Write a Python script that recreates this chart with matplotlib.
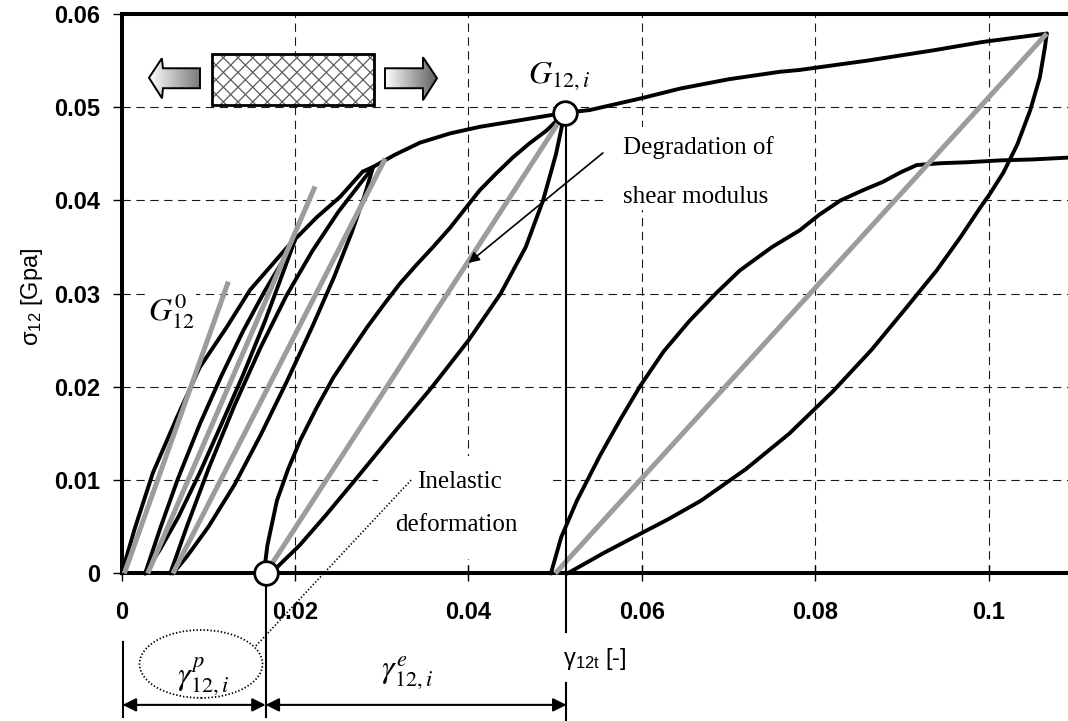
import matplotlib
matplotlib.use("Agg")
import numpy as np
import matplotlib.pyplot as plt
from matplotlib.patches import Polygon, Rectangle, Ellipse
from matplotlib.colors import LinearSegmentedColormap

plt.rcParams['font.family'] = ['Liberation Sans', 'DejaVu Sans']
plt.rcParams['mathtext.fontset'] = 'custom'
plt.rcParams['mathtext.rm'] = 'Liberation Sans'
plt.rcParams['mathtext.it'] = 'Liberation Sans:italic'
plt.rcParams['mathtext.bf'] = 'Liberation Sans:bold'
plt.rcParams['lines.scale_dashes'] = False

# ---- measured shear stress–strain data (gamma12 [-], sigma12 [GPa]) ----
# monotonic envelope: first loading up to the final peak
load_x = [0.0, 0.0015, 0.0036, 0.0064, 0.0090, 0.0121, 0.0148, 0.0191, 0.0225, 0.0252,
          0.0278, 0.0290, 0.0315, 0.0344, 0.0379, 0.0413, 0.0459, 0.0498, 0.0511, 0.0540,
          0.0601, 0.0644, 0.0700, 0.0759, 0.0782, 0.0860, 0.0936, 0.0993, 0.1067]
load_y = [0.0, 0.0048, 0.0108, 0.0168, 0.0221, 0.0264, 0.0304, 0.0350, 0.0382, 0.0404,
          0.0431, 0.0436, 0.0449, 0.0462, 0.0472, 0.0479, 0.0486, 0.0492, 0.0494, 0.0497,
          0.0510, 0.0520, 0.0530, 0.0538, 0.0540, 0.0550, 0.0561, 0.0570, 0.0579]

# cycle 1
unl1_x = [0.0200, 0.0185, 0.0165, 0.0140, 0.0115, 0.0090, 0.0065, 0.0045, 0.0027]
unl1_y = [0.0358, 0.0320, 0.0270, 0.0213, 0.0160, 0.0108, 0.0060, 0.0027, 0.0]
rel1_x = [0.0027, 0.0045, 0.0065, 0.0090, 0.0115, 0.0140, 0.0165, 0.0185, 0.0200]
rel1_y = [0.0, 0.0050, 0.0102, 0.0160, 0.0212, 0.0260, 0.0303, 0.0334, 0.0358]

# cycle 2
unl2_x = [0.0290, 0.0280, 0.0265, 0.0245, 0.0220, 0.0190, 0.0160, 0.0130, 0.0100, 0.0075, 0.0059]
unl2_y = [0.0436, 0.0405, 0.0365, 0.0318, 0.0265, 0.0205, 0.0148, 0.0095, 0.0050, 0.0018, 0.0]
rel2_x = [0.0056, 0.0075, 0.0100, 0.0130, 0.0160, 0.0190, 0.0220, 0.0250, 0.0275, 0.0290]
rel2_y = [0.0, 0.0050, 0.0112, 0.0180, 0.0242, 0.0298, 0.0346, 0.0388, 0.0418, 0.0436]

# cycle 3 (unloading from G12,i)
unl3_x = [0.0511, 0.0501, 0.0486, 0.0466, 0.0437, 0.0400, 0.0358, 0.0313, 0.0269, 0.0235,
          0.0205, 0.0185, 0.0172]
unl3_y = [0.0494, 0.0450, 0.0400, 0.0350, 0.0300, 0.0250, 0.0200, 0.0150, 0.0100, 0.0062,
          0.0030, 0.0012, 0.0]
rel3_x = [0.0164, 0.0168, 0.0179, 0.0192, 0.0206, 0.0225, 0.0244, 0.0264, 0.0283, 0.0302,
          0.0321, 0.0340, 0.0359, 0.0379, 0.0396, 0.0413, 0.0432, 0.0451, 0.0470, 0.0490, 0.0511]
rel3_y = [0.0, 0.0030, 0.0078, 0.0112, 0.0143, 0.0178, 0.0210, 0.0238, 0.0264, 0.0288,
          0.0311, 0.0331, 0.0350, 0.0371, 0.0391, 0.0411, 0.0429, 0.0446, 0.0461, 0.0475, 0.0494]

# cycle 4 (unloading from the final peak, then reloading)
unl4_x = [0.1067, 0.1065, 0.1059, 0.1048, 0.1033, 0.1017, 0.1002, 0.0990, 0.0967, 0.0940,
          0.0905, 0.0865, 0.0820, 0.0770, 0.0720, 0.0668, 0.0630, 0.0599, 0.0556, 0.0514]
unl4_y = [0.0579, 0.0565, 0.0532, 0.0497, 0.0460, 0.0430, 0.0408, 0.0392, 0.0360, 0.0325,
          0.0285, 0.0240, 0.0195, 0.0150, 0.0112, 0.0078, 0.0058, 0.0043, 0.0022, 0.0]
rel4_x = [0.0495, 0.0507, 0.0525, 0.0552, 0.0575, 0.0598, 0.0625, 0.0655, 0.0685, 0.0713,
          0.0750, 0.0782, 0.0805, 0.0829, 0.0855, 0.0878, 0.0898, 0.0917, 0.0945, 0.0975,
          0.1013, 0.1050, 0.1092]
rel4_y = [0.0, 0.0039, 0.0078, 0.0127, 0.0165, 0.0201, 0.0238, 0.0271, 0.0300, 0.0325,
          0.0350, 0.0368, 0.0385, 0.0400, 0.0411, 0.0420, 0.0430, 0.0438, 0.0440, 0.0441,
          0.0443, 0.0444, 0.0446]

# shear modulus secants (start, end)
mod0_x = [0.0003, 0.0123]; mod0_y = [0.0, 0.0313]
mod1_x = [0.0030, 0.0223]; mod1_y = [0.0, 0.0415]
mod2_x = [0.0059, 0.0304]; mod2_y = [0.0, 0.0445]
mod3_x = [0.0166, 0.0511]; mod3_y = [0.0, 0.0494]
mod4_x = [0.0500, 0.1067]; mod4_y = [0.0, 0.0579]

# reference points
g12i_point = (0.0511, 0.0494)
gp_point = (0.0166, 0.0)
gamma_t = 0.0513

xticks = [0, 0.02, 0.04, 0.06, 0.08, 0.1]
xticklabels = ['0', '0.02', '0.04', '0.06', '0.08', '0.1']
yticks = [0, 0.01, 0.02, 0.03, 0.04, 0.05, 0.06]
yticklabels = ['0', '0.01', '0.02', '0.03', '0.04', '0.05', '0.06']

# ---- figure ----
fig = plt.figure(figsize=(10.68, 7.21), dpi=100)
ax = fig.add_axes([0.11395, 0.20458, 0.88605, 0.77601])

BLACK_LW = 2.8
GRAY = '#9c9c9c'
GRAY_LW = 3.6

for xs, ys in [(load_x, load_y), (unl1_x, unl1_y), (rel1_x, rel1_y), (unl2_x, unl2_y),
               (rel2_x, rel2_y), (unl3_x, unl3_y), (rel3_x, rel3_y), (unl4_x, unl4_y),
               (rel4_x, rel4_y)]:
    ax.plot(xs, ys, color='black', lw=BLACK_LW, solid_capstyle='round',
            solid_joinstyle='round', zorder=3, clip_on=False)

for xs, ys in [(mod0_x, mod0_y), (mod1_x, mod1_y), (mod2_x, mod2_y), (mod3_x, mod3_y),
               (mod4_x, mod4_y)]:
    ax.plot(xs, ys, color=GRAY, lw=GRAY_LW, solid_capstyle='butt', zorder=4, clip_on=False)

# axes styling
ax.set_xlim(0, 0.10915)
ax.set_ylim(0, 0.06)
ax.set_xticks(xticks)
ax.set_xticklabels(xticklabels, fontweight='bold', fontsize=17)
ax.set_yticks(yticks)
ax.set_yticklabels(yticklabels, fontweight='bold', fontsize=17)
ax.tick_params(axis='x', direction='inout', length=11, width=1.0, pad=14)
ax.tick_params(axis='y', direction='out', length=6.5, width=1.0, pad=9)
for s in ['left', 'bottom', 'top']:
    ax.spines[s].set_linewidth(2.9)
ax.spines['right'].set_visible(False)
ax.set_axisbelow(True)
ax.grid(True, color='#1a1a1a', lw=0.8, ls=(0, (6, 4)))

ax.set_ylabel('σ$_{\\mathrm{12}}$ [Gpa]', fontsize=17)
ax.yaxis.set_label_coords(-0.081, 0.495)

# white boxes behind the annotation texts (mask the grid)
ax.add_patch(Rectangle((0.0557, 0.0390), 0.0240, 0.0089, fc='white', ec='none', zorder=1))
ax.add_patch(Rectangle((0.0296, 0.0016), 0.0196, 0.0110, fc='white', ec='none', zorder=1))

ax.text(0.0578, 0.0457, 'Degradation of', fontsize=18, family='Liberation Serif',
        va='center', ha='left', zorder=5)
ax.text(0.0578, 0.0404, 'shear modulus', fontsize=18, family='Liberation Serif',
        va='center', ha='left', zorder=5)
ax.annotate('', xy=(0.0400, 0.0333), xytext=(0.0555, 0.0451),
            arrowprops=dict(arrowstyle='-|>', color='black', lw=1.2, mutation_scale=16,
                            shrinkA=0, shrinkB=0), zorder=5)

ax.text(0.0341, 0.0098, 'Inelastic', fontsize=18, family='Liberation Serif',
        va='center', ha='left', zorder=5)
ax.text(0.0315, 0.0052, 'deformation', fontsize=18, family='Liberation Serif',
        va='center', ha='left', zorder=5)
ax.plot([0.03338, 0.01536], [0.01002, -0.00788], color='black', lw=1.2, ls=(0, (1, 1.5)),
        clip_on=False, zorder=5)
ax.add_patch(Ellipse((0.00915, -0.0097), 0.01419, 0.00729, fc='none', ec='black', lw=1.3,
                     ls=(0, (1, 1.5)), clip_on=False, zorder=5))

# math labels
ax.text(g12i_point[0] - 0.0006, 0.0533, r'$G_{12,i}$', fontsize=23, math_fontfamily='stix',
        ha='center', va='center', zorder=5)
ax.text(0.0057, 0.0281, r'$G_{12}^{0}$', fontsize=23, math_fontfamily='stix',
        ha='center', va='center', zorder=5,
        bbox=dict(boxstyle='square,pad=0.05', fc='white', ec='none'))
ax.text(0.00937, -0.0111, r'$\gamma_{12,i}^{p}$', fontsize=23, math_fontfamily='stix',
        ha='center', va='center', zorder=5)
ax.text(0.0329, -0.01066, r'$\gamma_{12,i}^{e}$', fontsize=23, math_fontfamily='stix',
        ha='center', va='center', zorder=5)
ax.text(0.0509, -0.00916, 'γ$_{\\mathrm{12t}}$ [-]', fontsize=17, ha='left', va='center')

# dimension lines below the axis
ax.plot([gamma_t, gamma_t], [g12i_point[1], -0.00627], color='black', lw=1.5, clip_on=False, zorder=5)
ax.plot([gamma_t, gamma_t], [-0.01174, -0.0160], color='black', lw=1.5, clip_on=False, zorder=5)
ax.plot([gp_point[0], gp_point[0]], [0, -0.01538], color='black', lw=1.5, clip_on=False, zorder=5)
ax.plot([0.000115, 0.000115], [-0.00734, -0.01538], color='black', lw=1.5, clip_on=False, zorder=5)
for xa, xb in [(0.000115, gp_point[0]), (gp_point[0], gamma_t)]:
    ax.annotate('', xy=(xa, -0.01409), xytext=(xb, -0.01409),
                arrowprops=dict(arrowstyle='<|-|>', color='black', lw=1.5, mutation_scale=20,
                                shrinkA=0, shrinkB=0), annotation_clip=False)

# marker circles
for (cx, cy) in [g12i_point, gp_point]:
    ax.plot([cx], [cy], marker='o', ms=17, mfc='white', mec='black', mew=2.0,
            zorder=8, clip_on=False)

# specimen sketch: cross-hatched strip with two pulling arrows
strip_x0, strip_y0, strip_w, strip_h = 0.01043, 0.05021, 0.01869, 0.00547
strip_bg = Rectangle((strip_x0, strip_y0), strip_w, strip_h, fc='white', ec='none', zorder=6)
ax.add_patch(strip_bg)
# diagonal hatch lines at +/-45 degrees on screen, about 15 px apart
px_x, px_y = 8670.0, 9330.0          # pixels per data unit on each axis
step = 14.7 / px_x
slope = px_x / px_y
for k in range(-8, 20):
    x_start = strip_x0 + k * step - strip_h / slope
    for sgn in (1, -1):
        if sgn > 0:
            xs_h = [x_start, x_start + strip_h / slope * 2 + strip_w]
            ys_h = [strip_y0, strip_y0 + slope * (xs_h[1] - xs_h[0])]
        else:
            xs_h = [x_start, x_start + strip_h / slope * 2 + strip_w]
            ys_h = [strip_y0 + strip_h, strip_y0 + strip_h - slope * (xs_h[1] - xs_h[0])]
        ln, = ax.plot(xs_h, ys_h, color='#5a5a5a', lw=0.9, zorder=6.5)
        ln.set_clip_path(strip_bg)
ax.add_patch(Rectangle((strip_x0, strip_y0), strip_w, strip_h, fc='none', ec='black',
                       lw=2.0, zorder=7))


def gradient_arrow(verts, c_left, c_right):
    poly = Polygon(verts, closed=True, fc='none', ec='black', lw=1.4, zorder=7)
    ax.add_patch(poly)
    xs = [v[0] for v in verts]
    ys = [v[1] for v in verts]
    cmap = LinearSegmentedColormap.from_list('arrow_grad', [c_left, c_right])
    grad = np.linspace(0, 1, 256).reshape(1, -1)
    im = ax.imshow(grad, extent=(min(xs), max(xs), min(ys), max(ys)), cmap=cmap,
                   aspect='auto', interpolation='bilinear', zorder=6)
    im.set_clip_path(poly)


gradient_arrow([(0.00315, 0.05316), (0.00463, 0.05525), (0.00476, 0.05418), (0.00903, 0.05418),
                (0.00903, 0.05204), (0.00476, 0.05204), (0.00465, 0.05096)],
               '#ffffff', '#7a7a7a')
gradient_arrow([(0.03037, 0.05418), (0.03475, 0.05418), (0.03475, 0.05536), (0.03637, 0.05311),
                (0.03475, 0.05075), (0.03475, 0.05204), (0.03037, 0.05204)],
               '#ffffff', '#5c5c5c')

ax.set_xlim(0, 0.10915)
ax.set_ylim(0, 0.06)

fig.savefig('out.png', dpi=100)
